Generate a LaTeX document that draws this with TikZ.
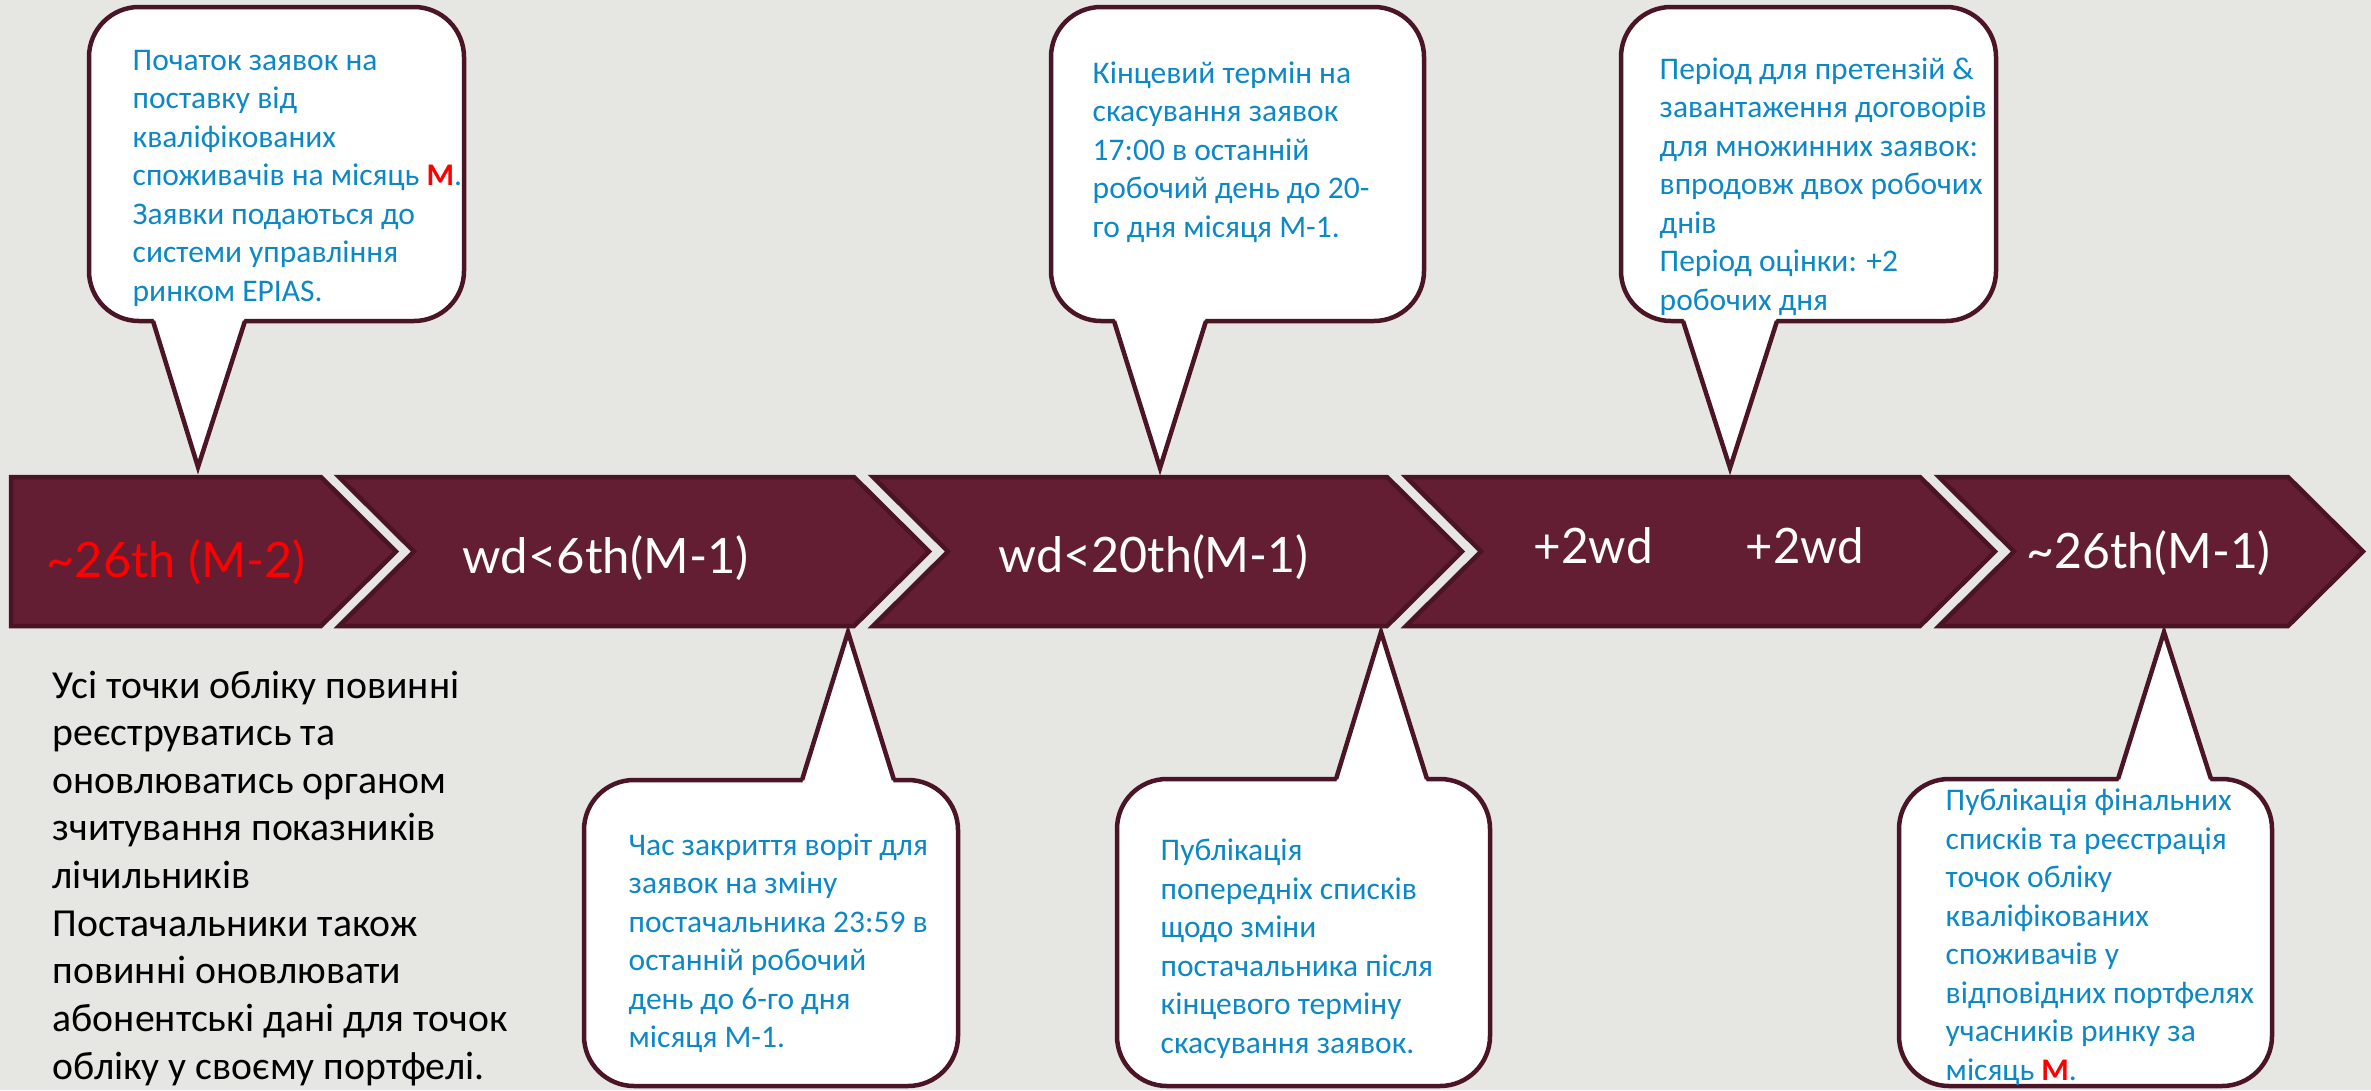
\documentclass[tikz,border=0pt]{standalone}
\usepackage{fontspec}
\usepackage{graphicx}
\setmainfont{Carlito}
\newfontfamily\gillfont{Lato}
\newlength\pxu
\setlength\pxu{0.1mm}
\definecolor{bgcol}{RGB}{230,230,227}
\definecolor{chevfill}{RGB}{99,30,51}
\definecolor{chevline}{RGB}{74,20,37}
\definecolor{calline}{RGB}{75,21,38}
\definecolor{txtblue}{RGB}{13,136,198}
\definecolor{redm}{RGB}{255,0,0}
\tikzset{
  chev/.style={fill=chevfill, draw=chevline, line width=0.45mm, line join=miter},
  callbox/.style={fill=white, draw=calline, line width=0.45mm, rounded corners=5mm},
  calltail/.style={draw=calline, line width=0.45mm, line join=miter},
  calltext/.style={anchor=base west, inner sep=0pt, align=left, text=txtblue,
    font=\fontsize{8.96pt}{10.95pt}\selectfont},
  lefttext/.style={anchor=base west, inner sep=0pt, align=left, text=black,
    font=\fontsize{11.3pt}{13.55pt}\selectfont},
  chevlabel/.style={anchor=base west, inner sep=0pt, text=white,
    font=\gillfont\fontsize{13.9pt}{16pt}\selectfont},
}
% tail pointing down: L T R B b1 b2 tipx tipy
\newcommand\calloutdown[8]{%
  \draw[callbox] (#1,#2) rectangle (#3,#4);
  \fill[white] (#5,#4-4) -- (#7,#8) -- (#6,#4-4) -- cycle;
  \draw[calltail] (#5,#4) -- (#7,#8) -- (#6,#4);
}
% tail pointing up: L T R B b1 b2 tipx tipy
\newcommand\calloutup[8]{%
  \draw[callbox] (#1,#2) rectangle (#3,#4);
  \fill[white] (#5,#2+4) -- (#7,#8) -- (#6,#2+4) -- cycle;
  \draw[calltail] (#5,#2) -- (#7,#8) -- (#6,#2);
}
\newcommand\redM{\textcolor{redm}{\bfseries М}}
\begin{document}
\begin{tikzpicture}[x=0.1mm,y=-0.1mm]
\useasboundingbox (0,0) rectangle (2371,1090);
\fill[bgcol] (0,0) rectangle (2371,1090);

% chevrons
\draw[chev] (11,477) -- (321,477) -- (396,551.5) -- (321,626) -- (11,626) -- cycle;
\draw[chev] (339,477) -- (854,477) -- (929,551.5) -- (854,626) -- (339,626) -- (414,551.5) -- cycle;
\draw[chev] (873,477) -- (1387,477) -- (1462,551.5) -- (1387,626) -- (873,626) -- (948,551.5) -- cycle;
\draw[chev] (1406,477) -- (1920,477) -- (1995,551.5) -- (1920,626) -- (1406,626) -- (1481,551.5) -- cycle;
\draw[chev] (1939,477) -- (2288,477) -- (2363,551.5) -- (2288,626) -- (1939,626) -- (2014,551.5) -- cycle;

% chevron labels
\node[chevlabel, text=redm] (c1) at (46,577) {\resizebox{259\pxu}{\height}{\gillfont \textasciitilde 26th (M-2)}};
\node[chevlabel] (c2) at (462,573) {\resizebox{286\pxu}{\height}{\gillfont wd<6th(M-1)}};
\node[chevlabel] (c3) at (998,572) {\resizebox{310\pxu}{\height}{\gillfont wd<20th(M-1)}};
\node[chevlabel] (c4a) at (1533,563) {\resizebox{119\pxu}{\height}{\gillfont +2wd}};
\node[chevlabel] (c4b) at (1745,563) {\resizebox{118\pxu}{\height}{\gillfont +2wd}};
\node[chevlabel] (c5) at (2026,568) {\resizebox{244\pxu}{\height}{\gillfont \textasciitilde 26th(M-1)}};

% callouts
\calloutdown{89}{7}{464}{321}{153}{245}{198}{467}
\calloutdown{1051}{7}{1424}{321}{1114}{1206}{1160}{468}
\calloutdown{1621}{7}{1996}{321}{1683}{1777}{1730}{468}
\calloutup{584}{780}{958}{1086}{802}{894}{848}{632}
\calloutup{1117}{779}{1490}{1086}{1336}{1427}{1381}{632}
\calloutup{1899}{779}{2272}{1086}{2118}{2211}{2164}{632}

% callout texts (anchor = baseline of the last line)
\node[calltext] (t1) at (132,301) {Початок заявок на\\поставку від\\кваліфікованих\\споживачів на місяць \redM.\\Заявки подаються до\\системи управління\\ринком EPIAS.};
\node[calltext] (t2) at (1092,237) {Кінцевий термін на\\скасування заявок\\17:00 в останній\\робочий день до 20-\\го дня місяця М-1.};
\node[calltext] (t3) at (1659,310) {Період для претензій \&\\завантаження договорів\\для множинних заявок:\\впродовж двох робочих\\днів\\Період оцінки: +2\\робочих дня};
\node[calltext] (t4) at (628,1047.5) {Час закриття воріт для\\заявок на зміну\\постачальника 23:59 в\\останній робочий\\день до 6-го дня\\місяця М-1.};
\node[calltext] (t5) at (1160,1053) {Публікація\\попередніх списків\\щодо зміни\\постачальника після\\кінцевого терміну\\скасування заявок.};
\node[calltext] (t6) at (1945,1080) {Публікація фінальних\\списків та реєстрація\\точок обліку\\кваліфікованих\\споживачів у\\відповідних портфелях\\учасників ринку за\\місяць \redM.};

% left text
\node[lefttext] (lt) at (52,1079) {Усі точки обліку повинні\\реєструватись та\\оновлюватись органом\\зчитування показників\\лічильників\\Постачальники також\\повинні оновлювати\\абонентські дані для точок\\обліку у своєму портфелі.};
\end{tikzpicture}
\end{document}
